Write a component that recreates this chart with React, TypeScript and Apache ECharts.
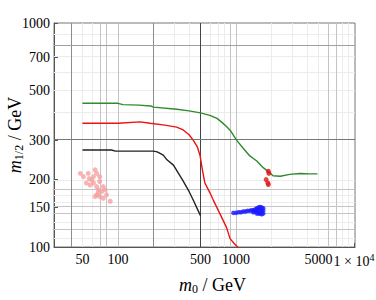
import React, { useEffect, useRef } from 'react';
import * as echarts from 'echarts';

// ---- data (m0 in GeV, m1/2 in GeV) ----
const greenM0 = [50, 100, 110, 150, 190, 200, 315, 400, 500, 600, 690, 760, 830, 900, 1010, 1150, 1310, 1500, 1700, 1880, 2060, 2370, 2850, 3480, 4240, 4900];
const greenM12 = [438, 438, 432, 430, 426, 421, 412, 405, 397, 387, 375, 360, 345, 330, 300, 276, 255, 242, 226, 217, 208, 207, 211, 213, 212, 212];

const redM0 = [50, 100, 154, 187, 250, 314, 357, 400, 434, 470, 495, 520, 545, 600, 642, 730, 832, 890, 960, 1050];
const redM12 = [357, 357, 362, 357, 350, 343, 333, 317, 300, 280, 257, 220, 193, 175, 162, 141, 122, 109, 104, 99];

const blackM0 = [50, 88, 95, 200, 215, 242, 260, 295, 353, 400, 434, 470, 500];
const blackM12 = [271, 271, 268, 268, 266, 257, 245, 232, 199, 177, 162, 148, 138];

const pinkM0 = [48, 51, 56, 64, 66, 57, 62, 58, 66, 70, 68, 75, 73, 78, 66, 70, 80, 86, 75, 64, 68, 60, 54, 62, 70];
const pinkM12 = [213, 206, 213, 221, 213, 202, 193, 189, 186, 196, 180, 186, 177, 180, 171, 168, 171, 160, 165, 168, 174, 199, 193, 206, 206];

const redDotM0 = [1880, 1900, 1800, 1860, 1880];
const redDotM12 = [218, 213, 200, 193, 190];

const blueM0 = [950, 1000, 1050, 1100, 1150, 1200, 1250, 1300, 1350, 1400, 1400, 1450, 1450, 1500, 1500, 1500, 1550, 1550, 1550, 1600, 1600, 1600, 1650, 1650, 1650, 1700, 1700, 1700];
const blueM12 = [142, 142, 143, 143, 144, 144, 145, 145, 146, 146, 143, 147, 144, 149, 145, 141, 150, 146, 141, 151, 146, 141, 150, 145, 140, 149, 145, 141];

// ---- ticks / grid ----
const xTickVals = [50, 100, 500, 1000, 5000, 10000];
const xTickText = ['50', '100', '500', '1000', '5000', '1 × 10{p|4}'];
const yTickVals = [100, 150, 200, 300, 500, 700, 1000];
const yTickText = ['100', '150', '200', '300', '500', '700', '1000'];

const xGridDark = [500];
const xGridMid = [40, 200];
const xGridSoft = [70, 80, 100, 900, 1000, 6000, 7000];
const xGridLight = [50, 60, 300, 400, 600, 700, 800, 2000, 3000, 4000, 5000, 8000, 9000];
const yGridDark = [300];
const yGridMid = [800];
const yGridSoft = [180, 150, 140, 120];
const yGridLight = [110, 130, 160, 170, 200, 400, 500, 600, 700, 900];

const L = Math.log10;
const FONT = 'Liberation Serif';

const zip = (a: number[], b: number[]) => a.map((v, i) => [L(v), L(b[i])]);

const lookup = (vals: number[], texts: string[]) => (v: number) => {
  for (let i = 0; i < vals.length; i++) {
    if (Math.abs(L(vals[i]) - v) < 1e-6) return texts[i];
  }
  return '';
};

const nameRich = {
  i: { fontFamily: FONT, fontStyle: 'italic', fontSize: 18, color: '#000' },
  s: { fontFamily: FONT, fontSize: 12, color: '#000', padding: [9, 0, 0, 0] },
  t: { fontFamily: FONT, fontSize: 18, color: '#000' },
};

export default function App() {
  const ref = useRef<HTMLDivElement>(null);
  useEffect(() => {
    if (!ref.current) return;
    const chart = echarts.init(ref.current, null, { renderer: 'svg' });
    const gridLines: any[] = [];
    const addX = (arr: number[], color: string) => arr.forEach(v => gridLines.push({ xAxis: L(v), lineStyle: { color, width: 1, type: 'solid' } }));
    const addY = (arr: number[], color: string) => arr.forEach(v => gridLines.push({ yAxis: L(v), lineStyle: { color, width: 1, type: 'solid' } }));
    addX(xGridLight, '#ececec');
    addY(yGridLight, '#ececec');
    addX(xGridSoft, '#c4c4c4');
    addY(yGridSoft, '#c4c4c4');
    addX(xGridMid, '#8c8c8c');
    addY(yGridMid, '#a0a0a0');
    addX(xGridDark, '#444');
    addY(yGridDark, '#777');

    const lineSeries = (name: string, data: number[][], color: string) => ({
      name,
      type: 'line',
      data,
      showSymbol: false,
      symbol: 'none',
      lineStyle: { color, width: 1.4 },
      z: 3,
      silent: true,
    });
    const scatterSeries = (name: string, data: number[][], color: string, size: number) => ({
      name,
      type: 'scatter',
      data,
      symbol: 'circle',
      symbolSize: size,
      itemStyle: { color },
      z: 4,
      silent: true,
    });

    chart.setOption({
      animation: false,
      backgroundColor: '#fff',
      grid: {
        left: 54, right: 21, top: 23, bottom: 53,
        show: true, borderColor: '#777', borderWidth: 1,
        outerBoundsMode: 'none',
      },
      xAxis: {
        type: 'value',
        min: 1.458,
        max: 4.008,
        axisLine: { show: true, lineStyle: { color: '#555', width: 1 } },
        axisTick: { show: true, inside: true, length: 4, customValues: xTickVals.map(L), lineStyle: { color: '#555' } },
        axisLabel: {
          customValues: xTickVals.map(L),
          formatter: lookup(xTickVals, xTickText),
          fontFamily: FONT, fontSize: 14, color: '#000', margin: 5,
          rich: { p: { fontFamily: FONT, fontSize: 10, color: '#000', padding: [0, 0, 8, 0] } },
        },
        splitLine: { show: false },
        name: '{i|m}{s|0}{t| / GeV}',
        nameLocation: 'middle',
        nameGap: 27,
        nameTextStyle: { rich: nameRich, padding: [0, 0, 0, 16] },
      },
      yAxis: {
        type: 'value',
        min: 2,
        max: 3,
        axisLine: { show: true, lineStyle: { color: '#555', width: 1 } },
        axisTick: { show: true, inside: true, length: 4, customValues: yTickVals.map(L), lineStyle: { color: '#555' } },
        axisLabel: {
          customValues: yTickVals.map(L),
          formatter: lookup(yTickVals, yTickText),
          fontFamily: FONT, fontSize: 14, color: '#000', margin: 4,
        },
        splitLine: { show: false },
        name: '{i|m}{s|1/2}{t| / GeV}',
        nameLocation: 'middle',
        nameGap: 29,
        nameMoveOverlap: false,
        nameTextStyle: { rich: nameRich },
      },
      series: [
        {
          name: 'grid',
          type: 'line',
          data: [],
          z: 1,
          silent: true,
          markLine: {
            z: 1,
            silent: true,
            symbol: ['none', 'none'],
            label: { show: false },
            emphasis: { disabled: true },
            animation: false,
            data: gridLines,
          },
        },
        lineSeries('black', zip(blackM0, blackM12), '#222'),
        lineSeries('red', zip(redM0, redM12), '#ee1111'),
        lineSeries('green', zip(greenM0, greenM12), '#2f8a2f'),
        scatterSeries('pink', zip(pinkM0, pinkM12), '#f6a0a0', 5),
        scatterSeries('reddots', zip(redDotM0, redDotM12), '#e01818', 5),
        scatterSeries('blue', zip(blueM0, blueM12), '#1a1aff', 4.5),
      ],
    });
    return () => chart.dispose();
  }, []);
  return <div ref={ref} style={{ position: 'fixed', left: 0, top: 0, width: 376, height: 300 }} />;
}
